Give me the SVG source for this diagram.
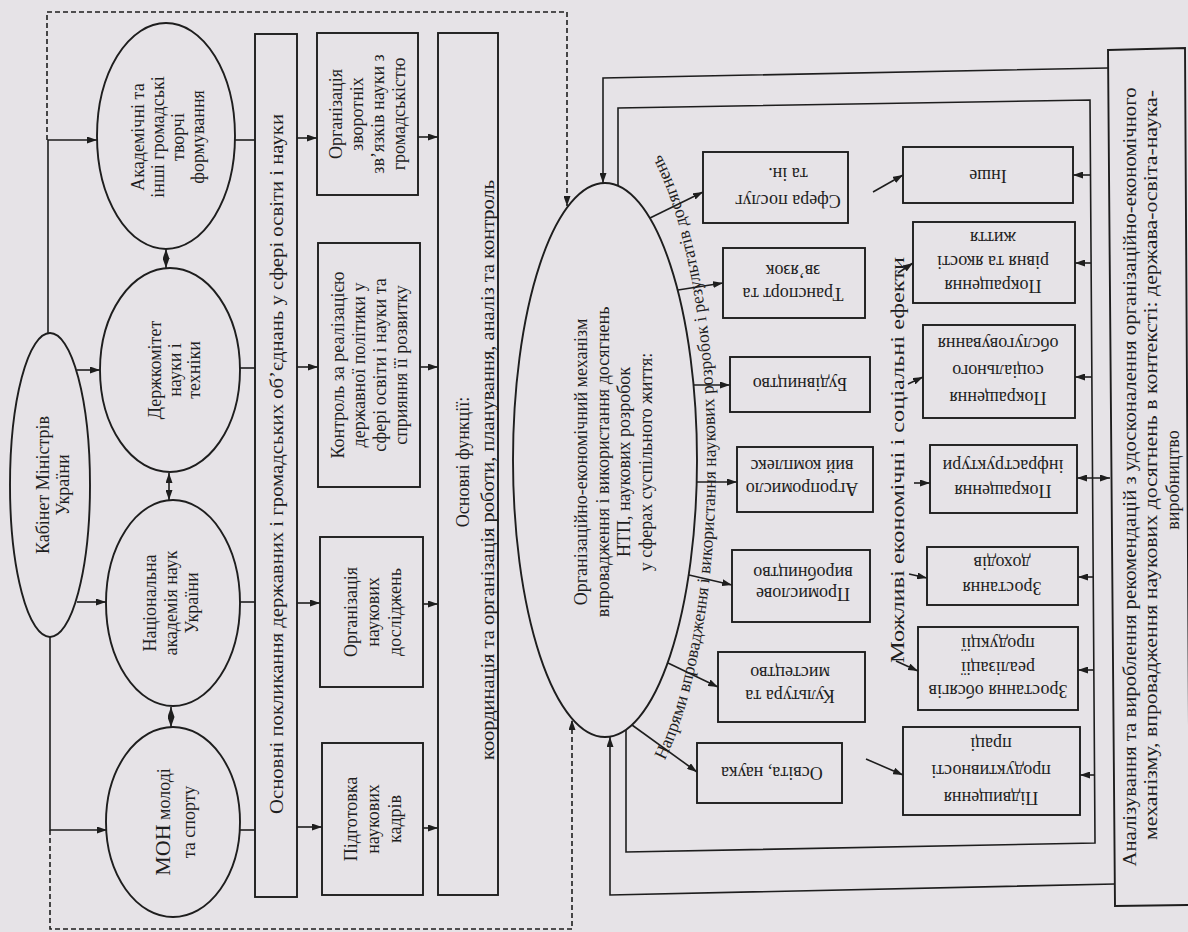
<svg xmlns="http://www.w3.org/2000/svg" width="1188" height="932" viewBox="0 0 1188 932">
<defs>
<style>
.ln{stroke:#1e1e1e;stroke-width:1.6;fill:none}
.bx{fill:none;stroke:#1e1e1e;stroke-width:1.9}
.dash{stroke-dasharray:5 3}
.t{font-family:"Liberation Serif","Times New Roman",serif;fill:#1e1e1e;font-size:18px}
</style>
<marker id="ah" viewBox="0 0 10 7" refX="10" refY="3.5" markerWidth="10" markerHeight="7" markerUnits="userSpaceOnUse" orient="auto-start-reverse"><path d="M0,0 L10,3.5 L0,7 z" fill="#1e1e1e"/></marker>
<path id="arcTxt" d="M 663 764 A 111 355 0 0 0 660 154" fill="none"/>
</defs>
<rect width="1188" height="932" fill="#e6e3e7"/>

<g id="connectors">
<path class="ln dash" d="M47 140 L47 12 L567 12 L567 206" marker-end="url(#ah)"/>
<path class="ln dash" d="M50 830 L50 929 L572 929 L572 720" marker-end="url(#ah)"/>
<path class="ln" d="M48 333 L48 140 L97 140" marker-end="url(#ah)"/>
<path class="ln" d="M50 637 L50 830 L107 830" marker-end="url(#ah)"/>
<path class="ln" d="M77 370 L100 370" marker-end="url(#ah)"/>
<path class="ln" d="M77 602 L106 602" marker-end="url(#ah)"/>
<path class="ln" d="M166 249 L166 268" marker-start="url(#ah)" marker-end="url(#ah)"/>
<path class="ln" d="M169 473 L169 500" marker-start="url(#ah)" marker-end="url(#ah)"/>
<path class="ln" d="M171 707 L171 727" marker-start="url(#ah)" marker-end="url(#ah)"/>
<path class="ln" d="M235 140 L255 140"/>
<path class="ln" d="M240 368 L255 368"/>
<path class="ln" d="M240 602 L255 602"/>
<path class="ln" d="M240 830 L255 830"/>
<path class="ln" d="M297 138 L317 138" marker-end="url(#ah)"/>
<path class="ln" d="M297 367 L318 367" marker-end="url(#ah)"/>
<path class="ln" d="M297 603 L320 603" marker-end="url(#ah)"/>
<path class="ln" d="M297 827 L322 827" marker-end="url(#ah)"/>
<path class="ln" d="M418 137 L438 137" marker-end="url(#ah)"/>
<path class="ln" d="M420 367 L438 367" marker-end="url(#ah)"/>
<path class="ln" d="M423 604 L438 604" marker-end="url(#ah)"/>
<path class="ln" d="M423 828 L438 828" marker-end="url(#ah)"/>
<path class="ln" d="M1108 68 L603 78 L603 183" marker-end="url(#ah)"/>
<path class="ln" d="M1115 884 L610 895 L610 737" marker-end="url(#ah)"/>
<path class="ln" d="M618 186 L618 108 L1090 100 L1095 843 L626 852 L626 730"/>
<path class="ln" d="M650 218 L703 192" marker-end="url(#ah)"/>
<path class="ln" d="M678 290 L723 283" marker-end="url(#ah)"/>
<path class="ln" d="M693 385 L730 385" marker-end="url(#ah)"/>
<path class="ln" d="M697 482 L737 482" marker-end="url(#ah)"/>
<path class="ln" d="M689 575 L732 585" marker-end="url(#ah)"/>
<path class="ln" d="M668 663 L718 687" marker-end="url(#ah)"/>
<path class="ln" d="M632 725 L697 772" marker-end="url(#ah)"/>
<path class="ln" d="M873 192 L903 175" marker-end="url(#ah)"/>
<path class="ln" d="M898 273 L913 263" marker-end="url(#ah)"/>
<path class="ln" d="M908 384 L923 377" marker-end="url(#ah)"/>
<path class="ln" d="M914 483 L930 483" marker-end="url(#ah)"/>
<path class="ln" d="M909 574 L927 578" marker-end="url(#ah)"/>
<path class="ln" d="M896 661 L918 671" marker-end="url(#ah)"/>
<path class="ln" d="M866 759 L903 775" marker-end="url(#ah)"/>
<path class="ln" d="M1091 175 L1073 175" marker-end="url(#ah)"/>
<path class="ln" d="M1091 263 L1075 263" marker-end="url(#ah)"/>
<path class="ln" d="M1092 377 L1075 377" marker-end="url(#ah)"/>
<path class="ln" d="M1077 478 L1110 478" marker-start="url(#ah)" marker-end="url(#ah)"/>
<path class="ln" d="M1094 577 L1078 577" marker-end="url(#ah)"/>
<path class="ln" d="M1094 670 L1078 670" marker-end="url(#ah)"/>
<path class="ln" d="M1095 775 L1080 775" marker-end="url(#ah)"/>
</g>

<g id="n-cabinet">
<ellipse class="bx" cx="50" cy="485" rx="40" ry="152"/>
<text class="t" font-size="20" text-anchor="middle" transform="translate(49,485) rotate(-90)"><tspan x="0" y="0">Кабінет Міністрів</tspan><tspan x="0" y="20">України</tspan></text>
</g>
<g id="n-academic">
<ellipse class="bx" cx="166" cy="136" rx="69" ry="113"/>
<text class="t" text-anchor="middle" transform="translate(144,137) rotate(-90)"><tspan x="0" y="0">Академічні та</tspan><tspan x="0" y="20">інші громадські</tspan><tspan x="0" y="40">творчі</tspan><tspan x="0" y="60">формування</tspan></text>
</g>
<g id="n-derzhkom">
<ellipse class="bx" cx="170" cy="370" rx="70" ry="102"/>
<text class="t" font-size="20" text-anchor="middle" transform="translate(161,370) rotate(-90)"><tspan x="0" y="0">Держкомітет</tspan><tspan x="0" y="20">науки і</tspan><tspan x="0" y="39">техніки</tspan></text>
</g>
<g id="n-nanu">
<ellipse class="bx" cx="173" cy="603" rx="67" ry="103"/>
<text class="t" font-size="19" text-anchor="middle" transform="translate(156,603) rotate(-90)"><tspan x="0" y="0">Національна</tspan><tspan x="0" y="21">академія наук</tspan><tspan x="0" y="42">України</tspan></text>
</g>
<g id="n-mon">
<ellipse class="bx" cx="173" cy="822" rx="67" ry="95"/>
<text class="t" font-size="19" text-anchor="middle" transform="translate(170,822) rotate(-90)"><tspan x="0" y="0"><tspan font-size="22">МОН</tspan> молоді</tspan><tspan x="0" y="25">та спорту</tspan></text>
</g>

<g id="n-mission">
<rect class="bx" x="255" y="34" width="42" height="863"/>
<text class="t" font-size="20" text-anchor="middle" textLength="700" lengthAdjust="spacingAndGlyphs" transform="translate(283,464) rotate(-90)">Основні покликання державних і громадських об’єднань у сфері освіти і науки</text>
</g>
<g id="n-feedback">
<rect class="bx" x="317" y="33" width="101" height="162"/>
<text class="t" text-anchor="middle" transform="translate(342,114) rotate(-90)"><tspan x="0" y="0">Організація</tspan><tspan x="0" y="21">зворотніх</tspan><tspan x="0" y="42">зв’язків науки з</tspan><tspan x="0" y="63">громадськістю</tspan></text>
</g>
<g id="n-control">
<rect class="bx" x="318" y="243" width="102" height="244"/>
<text class="t" text-anchor="middle" transform="translate(344,365) rotate(-90)"><tspan x="0" y="0">Контроль за реалізацією</tspan><tspan x="0" y="21">державної політики у</tspan><tspan x="0" y="42">сфері освіти і науки та</tspan><tspan x="0" y="63">сприяння її розвитку</tspan></text>
</g>
<g id="n-research">
<rect class="bx" x="320" y="537" width="103" height="150"/>
<text class="t" text-anchor="middle" transform="translate(357,612) rotate(-90)"><tspan x="0" y="0">Організація</tspan><tspan x="0" y="22">наукових</tspan><tspan x="0" y="44">досліджень</tspan></text>
</g>
<g id="n-training">
<rect class="bx" x="322" y="743" width="101" height="152"/>
<text class="t" text-anchor="middle" transform="translate(357,819) rotate(-90)"><tspan x="0" y="0">Підготовка</tspan><tspan x="0" y="22">наукових</tspan><tspan x="0" y="44">кадрів</tspan></text>
</g>
<g id="n-functions">
<rect class="bx" x="438" y="33" width="60" height="862"/>
<text class="t" text-anchor="middle" transform="translate(469,462) rotate(-90)">Основні функції:</text>
<text class="t" text-anchor="middle" textLength="580" lengthAdjust="spacingAndGlyphs" transform="translate(494,470) rotate(-90)">координація та організація роботи, планування, аналіз та контроль</text>
</g>

<g id="n-mechanism">
<ellipse class="bx" cx="605" cy="460" rx="92" ry="277"/>
<text class="t" font-size="20.5" text-anchor="middle" transform="translate(587,462) rotate(-90)"><tspan x="0" y="0">Організаційно-економічний механізм</tspan><tspan x="0" y="21.5">впровадження і використання досягнень</tspan><tspan x="0" y="43">НТП, наукових розробок</tspan><tspan x="0" y="64.5">у сферах суспільного життя:</tspan></text>
</g>
<g id="lbl-directions">
<text class="t" font-size="12"><textPath href="#arcTxt" startOffset="4" textLength="620" lengthAdjust="spacingAndGlyphs">Напрями впровадження і використання наукових розробок і результатів досягнень</textPath></text>
</g>

<g id="n-services">
<rect class="bx" x="703" y="152" width="145" height="71"/>
<text class="t" font-size="19" text-anchor="middle" transform="translate(788,195) rotate(180)"><tspan x="0" y="0">Сфера послуг</tspan><tspan x="0" y="27">та ін.</tspan></text>
</g>
<g id="n-transport">
<rect class="bx" x="723" y="248" width="142" height="70"/>
<text class="t" font-size="19" text-anchor="middle" transform="translate(793,288) rotate(180)"><tspan x="0" y="0">Транспорт та</tspan><tspan x="0" y="23">зв’язок</tspan></text>
</g>
<g id="n-construction">
<rect class="bx" x="730" y="357" width="140" height="55"/>
<text class="t" font-size="19" text-anchor="middle" transform="translate(800,378) rotate(180)">Будівництво</text>
</g>
<g id="n-agro">
<rect class="bx" x="737" y="447" width="136" height="65"/>
<text class="t" font-size="19" text-anchor="middle" transform="translate(802,483) rotate(180)"><tspan x="0" y="0">Агропромисло</tspan><tspan x="0" y="23">вий комплекс</tspan></text>
</g>
<g id="n-industry">
<rect class="bx" x="732" y="550" width="138" height="72"/>
<text class="t" font-size="19" text-anchor="middle" transform="translate(803,588) rotate(180)"><tspan x="0" y="0">Промислове</tspan><tspan x="0" y="21">виробництво</tspan></text>
</g>
<g id="n-culture">
<rect class="bx" x="718" y="652" width="147" height="70"/>
<text class="t" font-size="19" text-anchor="middle" transform="translate(790,690) rotate(180)"><tspan x="0" y="0">Культура та</tspan><tspan x="0" y="23">мистецтво</tspan></text>
</g>
<g id="n-education">
<rect class="bx" x="697" y="743" width="145" height="60"/>
<text class="t" font-size="19" text-anchor="middle" transform="translate(772,767) rotate(180)">Освіта, наука</text>
</g>

<g id="lbl-effects">
<text class="t" font-size="23" text-anchor="middle" textLength="406" lengthAdjust="spacingAndGlyphs" transform="translate(904,460) rotate(-90)">Можливі економічні і соціальні ефекти</text>
</g>

<g id="n-other">
<rect class="bx" x="903" y="147" width="170" height="56"/>
<text class="t" font-size="19" text-anchor="middle" transform="translate(988,170) rotate(180)">Інше</text>
</g>
<g id="n-living">
<rect class="bx" x="913" y="222" width="162" height="81"/>
<text class="t" font-size="19" text-anchor="middle" transform="translate(993,280) rotate(180)"><tspan x="0" y="0">Покращення</tspan><tspan x="0" y="24">рівня та якості</tspan><tspan x="0" y="48">життя</tspan></text>
</g>
<g id="n-social">
<rect class="bx" x="923" y="325" width="152" height="93"/>
<text class="t" font-size="19" text-anchor="middle" transform="translate(998,392) rotate(180)"><tspan x="0" y="0">Покращення</tspan><tspan x="0" y="27">соціального</tspan><tspan x="0" y="54">обслуговування</tspan></text>
</g>
<g id="n-infra">
<rect class="bx" x="930" y="445" width="147" height="68"/>
<text class="t" font-size="19" text-anchor="middle" transform="translate(1003,485) rotate(180)"><tspan x="0" y="0">Покращення</tspan><tspan x="0" y="25">інфраструктури</tspan></text>
</g>
<g id="n-income">
<rect class="bx" x="927" y="547" width="151" height="58"/>
<text class="t" font-size="19" text-anchor="middle" transform="translate(1002,582) rotate(180)"><tspan x="0" y="0">Зростання</tspan><tspan x="0" y="25">доходів</tspan></text>
</g>
<g id="n-sales">
<rect class="bx" x="918" y="627" width="160" height="83"/>
<text class="t" font-size="19" text-anchor="middle" transform="translate(998,685) rotate(180)"><tspan x="0" y="0">Зростання обсягів</tspan><tspan x="0" y="23">реалізації</tspan><tspan x="0" y="47">продукції</tspan></text>
</g>
<g id="n-productivity">
<rect class="bx" x="903" y="727" width="177" height="88"/>
<text class="t" font-size="19" text-anchor="middle" transform="translate(991,792) rotate(180)"><tspan x="0" y="0">Підвищення</tspan><tspan x="0" y="27">продуктивності</tspan><tspan x="0" y="54">праці</tspan></text>
</g>

<g id="n-analysis">
<polygon class="bx" points="1108,50 1185,48 1190,905 1115,906"/>
<text class="t" font-size="20" text-anchor="middle" textLength="779" lengthAdjust="spacingAndGlyphs" transform="translate(1136,477) rotate(-90)">Аналізування та вироблення рекомендацій з удосконалення організаційно-економічного</text>
<text class="t" font-size="20" text-anchor="middle" textLength="750" lengthAdjust="spacingAndGlyphs" transform="translate(1157,465) rotate(-90)">механізму, впровадження наукових досягнень в контексті: держава-освіта-наука-</text>
<text class="t" font-size="20" text-anchor="middle" transform="translate(1179,480) rotate(-90)">виробництво</text>
</g>
</svg>
